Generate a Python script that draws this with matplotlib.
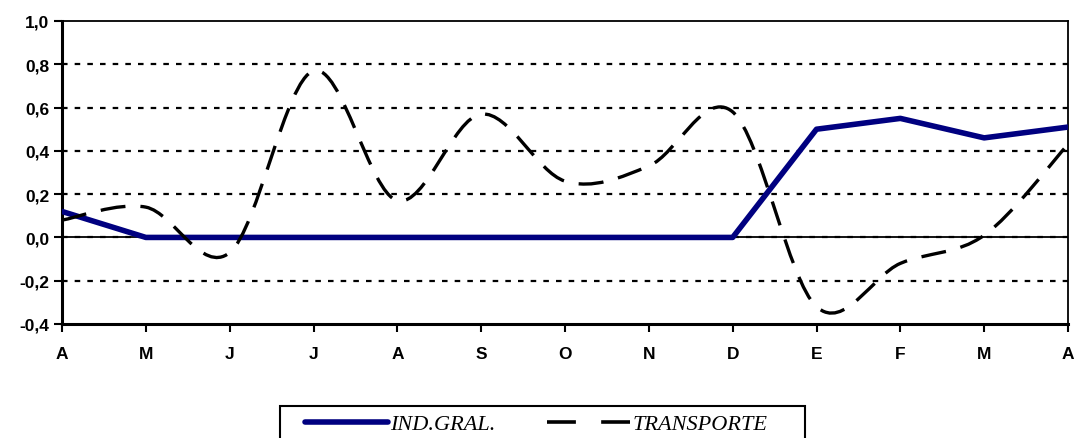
import numpy as np
import matplotlib.pyplot as plt
from matplotlib.path import Path
from matplotlib.patches import PathPatch, Rectangle
from matplotlib.lines import Line2D

months = ['A', 'M', 'J', 'J', 'A', 'S', 'O', 'N', 'D', 'E', 'F', 'M', 'A']
ind_gral = [0.12, 0.0, 0.0, 0.0, 0.0, 0.0, 0.0, 0.0, 0.0, 0.50, 0.55, 0.46, 0.51]
transporte = [0.08, 0.14, -0.07, 0.77, 0.17, 0.57, 0.26, 0.33, 0.58, -0.32, -0.12, 0.01, 0.43]
yticks = [-0.4, -0.2, 0.0, 0.2, 0.4, 0.6, 0.8, 1.0]


def smooth_path(xs, ys):
    # Excel style smoothed line: cubic bezier through each point
    p = np.column_stack([xs, ys]).astype(float)
    ext = np.vstack([p[0], p, p[-1]])
    verts = [p[0]]
    codes = [Path.MOVETO]
    for i in range(len(p) - 1):
        a, b, c, d = ext[i], ext[i + 1], ext[i + 2], ext[i + 3]
        verts += [b + (c - a) / 6, c - (d - b) / 6, c]
        codes += [Path.CURVE4] * 3
    return Path(verts, codes)


fig = plt.figure(figsize=(10.75, 4.39), dpi=100)
ax = fig.add_axes([62 / 1075, 114 / 439, 1006 / 1075, 303 / 439])
x = np.arange(len(months))

for v in yticks[1:-1]:
    ax.axhline(v, color='black', lw=1.6, ls=(0, (2.5, 3.2)), zorder=1)
ax.axhline(0, color='black', lw=1.3, zorder=1)

ax.plot(x, ind_gral, color='#000080', lw=4.0, solid_capstyle='round', zorder=3)
ax.add_patch(PathPatch(smooth_path(x, transporte), fill=False, ec='black', lw=2.4,
                       ls=(0, (7.5, 4.5)), zorder=4))

ax.set_xlim(0, 12)
ax.set_ylim(-0.4, 1.0)
ax.set_xticks(x)
ax.set_xticklabels(months)
ax.set_yticks(yticks)
ax.set_yticklabels([f'{v:.1f}'.replace('.', ',') for v in yticks])
for lab in ax.get_xticklabels() + ax.get_yticklabels():
    lab.set_fontfamily('Liberation Sans')
    lab.set_fontweight('bold')
    lab.set_fontsize(12.5)
ax.tick_params(axis='both', direction='out', length=6, width=1.5, color='black')
ax.tick_params(axis='x', pad=10)
ax.tick_params(axis='y', pad=3)
ax.spines['left'].set_linewidth(2.2)
ax.spines['bottom'].set_linewidth(2.2)
ax.spines['top'].set_linewidth(1.3)
ax.spines['right'].set_linewidth(1.3)

# legend box runs off the bottom edge, as in the original
fig.patches.append(Rectangle((280 / 1075, -0.05), 525 / 1075, 0.05 + 32 / 439,
                             transform=fig.transFigure, fill=False, ec='black', lw=1.5))
handles = [Line2D([], [], color='#000080', lw=4.0, solid_capstyle='round'),
           Line2D([], [], color='black', lw=2.6, ls=(0, (8, 7)))]
fig.legend(handles, ['IND.GRAL.', 'TRANSPORTE'], loc='center left',
           bbox_to_anchor=(305 / 1075, 14 / 439), borderaxespad=0, borderpad=0,
           ncol=2, frameon=False, handlelength=3.75, columnspacing=2.3,
           handletextpad=0.1,
           prop={'family': 'Liberation Serif', 'style': 'italic', 'size': 16})

fig.savefig('out.png', dpi=100)
